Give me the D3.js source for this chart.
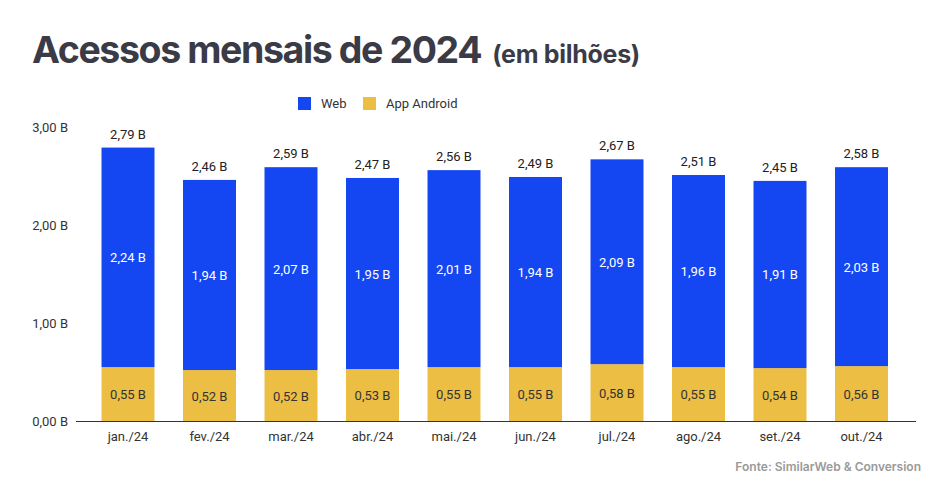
<!DOCTYPE html>
<html><head><meta charset="utf-8">
<script src="https://cdn.jsdelivr.net/npm/d3@7/dist/d3.min.js"></script>
<style>body{margin:0;background:#fff}svg{display:block}</style>
</head><body>
<svg id="c" width="949" height="486"></svg>
<script>
const months = ["jan./24","fev./24","mar./24","abr./24","mai./24","jun./24","jul./24","ago./24","set./24","out./24"];
const web = [2.24,1.94,2.07,1.95,2.01,1.94,2.09,1.96,1.91,2.03];
const android = [0.55,0.52,0.52,0.53,0.55,0.55,0.58,0.55,0.54,0.56];
const totals = [2.79,2.46,2.59,2.47,2.56,2.49,2.67,2.51,2.45,2.58];
const yTicks = [0,1,2,3];
const seriesNames = ["Web","App Android"];
const colors = ["#1447f2","#ecbe43"];

const svg = d3.select("#c");
const fmt = v => d3.format(".2f")(v).replace(".", ",") + " B";

const x = d3.scaleBand().domain(months).range([87.25, 902.25]).paddingInner(0.35).paddingOuter(0.175);
const y = d3.scaleLinear().domain([0,3]).range([421,127]);

// title
const t = svg.append("text").attr("x",32).attr("y",63).attr("fill","#3b3b47").attr("font-family","Inter").attr("font-weight",700);
t.append("tspan").attr("font-size",37.5).attr("letter-spacing",-1.4).text("Acessos mensais de 2024");
t.append("tspan").attr("font-size",25).attr("dx",11).attr("letter-spacing",-0.3).text("(em bilhões)");

// legend
const lg = svg.append("g").attr("font-family","Roboto").attr("font-size",13).attr("fill","#333");
[[298,321],[363,386]].forEach((p,i)=>{
  lg.append("rect").attr("x",p[0]).attr("y",97).attr("width",13).attr("height",13).attr("fill",colors[i]);
  lg.append("text").attr("x",p[1]).attr("y",108).attr("fill","#333").text(seriesNames[i]);
});

// y axis
const ya = svg.append("g").attr("transform","translate(68,0)")
  .call(d3.axisLeft(y).tickValues(yTicks).tickFormat(fmt).tickSize(0).tickPadding(0));
ya.select(".domain").remove();
ya.selectAll("text").attr("font-family","Roboto").attr("font-size",13).attr("fill","#333");

// bars
const stackData = months.map((m,i)=>({m, web:web[i], android:android[i]}));
const stack = d3.stack().keys(["android","web"])(stackData);
const fillFor = {android:colors[1], web:colors[0]};
stack.forEach(layer=>{
  const g = svg.append("g");
  g.selectAll("rect").data(layer).join("rect")
    .attr("x",d=>x(d.data.m)).attr("width",x.bandwidth())
    .attr("y",d=>y(d[1])).attr("height",d=>y(d[0])-y(d[1]))
    .attr("fill",fillFor[layer.key]);
  g.selectAll("text").data(layer).join("text")
    .attr("x",d=>x(d.data.m)+x.bandwidth()/2)
    .attr("y",d=>(y(d[0])+y(d[1]))/2+5)
    .attr("text-anchor","middle").attr("font-family","Roboto").attr("font-size",13)
    .attr("fill",layer.key==="web"?"#fff":"#333")
    .text(d=>fmt(d.data[layer.key]));
});

// totals
svg.append("g").selectAll("text").data(months).join("text")
  .attr("x",m=>x(m)+x.bandwidth()/2)
  .attr("y",(m,i)=>y(web[i]+android[i])-9)
  .attr("text-anchor","middle").attr("font-family","Roboto").attr("font-size",13).attr("fill","#222")
  .text((m,i)=>fmt(totals[i]));

// x axis
const xa = svg.append("g").attr("transform","translate(0,421)")
  .call(d3.axisBottom(x).tickSize(0).tickPadding(11));
xa.select(".domain").attr("d","M76,0.5H916").attr("stroke","#333");
xa.selectAll("text").attr("font-family","Roboto").attr("font-size",13).attr("fill","#333");

// source
svg.append("text").attr("x",921).attr("y",471).attr("text-anchor","end")
  .attr("font-family","Inter").attr("font-weight",600).attr("font-size",12).attr("fill","#9a9a9a")
  .text("Fonte: SimilarWeb & Conversion");
</script>
</body></html>
